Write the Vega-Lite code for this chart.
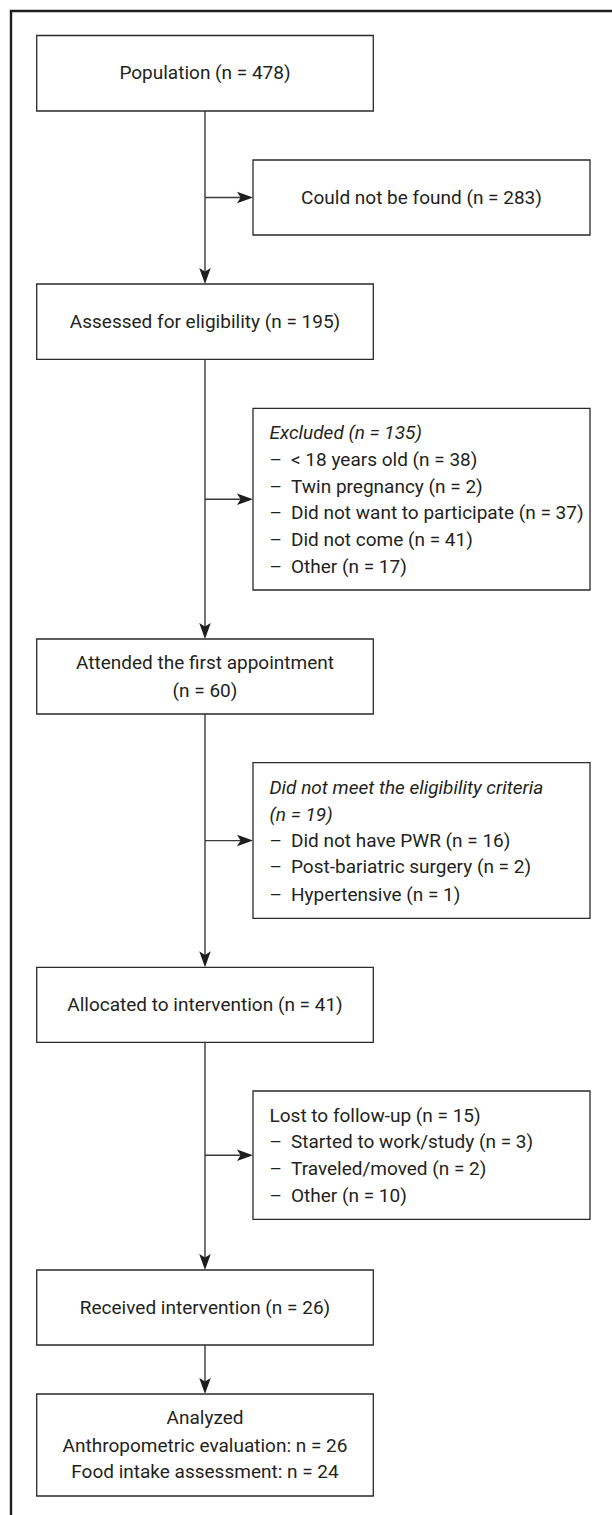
{
  "$schema": "https://vega.github.io/schema/vega-lite/v6.json",
  "width": 612,
  "height": 1515,
  "autosize": "none",
  "padding": 0,
  "background": "white",
  "config": {"view": {"stroke": null}},
  "datasets": {
    "frame": [{"x": 11, "x2": 660, "y": 11, "y2": 1560}],
    "boxes": [
      {"id": "population", "x": 36.7, "x2": 373.3, "y": 35.5, "y2": 111},
      {"id": "notfound", "x": 253, "x2": 590, "y": 160, "y2": 235},
      {"id": "assessed", "x": 36.7, "x2": 373.3, "y": 284, "y2": 359.3},
      {"id": "excluded", "x": 253, "x2": 590, "y": 408.3, "y2": 590},
      {"id": "attended", "x": 36.7, "x2": 373.3, "y": 639, "y2": 714},
      {"id": "notmeet", "x": 253, "x2": 590, "y": 762.7, "y2": 918.3},
      {"id": "allocated", "x": 36.7, "x2": 373.3, "y": 967.3, "y2": 1042.3},
      {"id": "lost", "x": 253, "x2": 590, "y": 1091, "y2": 1219.3},
      {"id": "received", "x": 36.7, "x2": 373.3, "y": 1270, "y2": 1345},
      {"id": "analyzed", "x": 36.7, "x2": 373.3, "y": 1394, "y2": 1496}
    ],
    "links": [
      {"x": 205, "y": 111, "x2": 205, "y2": 280},
      {"x": 205, "y": 359.3, "x2": 205, "y2": 635},
      {"x": 205, "y": 714, "x2": 205, "y2": 963},
      {"x": 205, "y": 1042.3, "x2": 205, "y2": 1266},
      {"x": 205, "y": 1345, "x2": 205, "y2": 1390},
      {"x": 205, "y": 197.5, "x2": 249, "y2": 197.5},
      {"x": 205, "y": 499.3, "x2": 249, "y2": 499.3},
      {"x": 205, "y": 840.6, "x2": 249, "y2": 840.6},
      {"x": 205, "y": 1155.2, "x2": 249, "y2": 1155.2}
    ],
    "arrows": [
      {"dir": "down", "x": 205, "y": 284},
      {"dir": "down", "x": 205, "y": 639},
      {"dir": "down", "x": 205, "y": 967.3},
      {"dir": "down", "x": 205, "y": 1270},
      {"dir": "down", "x": 205, "y": 1394},
      {"dir": "right", "x": 253, "y": 197.5},
      {"dir": "right", "x": 253, "y": 499.3},
      {"dir": "right", "x": 253, "y": 840.6},
      {"dir": "right", "x": 253, "y": 1155.2}
    ],
    "texts": [
      {"col": "c", "style": "n", "x": 205, "y": 73.3, "label": "Population (n = 478)"},
      {"col": "c", "style": "n", "x": 421.5, "y": 197.5, "label": "Could not be found (n = 283)"},
      {"col": "c", "style": "n", "x": 205, "y": 321.6, "label": "Assessed for eligibility (n = 195)"},
      {"col": "l", "style": "i", "x": 269.5, "y": 433, "label": "Excluded (n = 135)"},
      {"col": "l", "style": "n", "x": 269.5, "y": 460, "label": "–"},
      {"col": "l", "style": "n", "x": 291, "y": 460, "label": "< 18 years old (n = 38)"},
      {"col": "l", "style": "n", "x": 269.5, "y": 486.7, "label": "–"},
      {"col": "l", "style": "n", "x": 291, "y": 486.7, "label": "Twin pregnancy (n = 2)"},
      {"col": "l", "style": "n", "x": 269.5, "y": 513.3, "label": "–"},
      {"col": "l", "style": "n", "x": 291, "y": 513.3, "label": "Did not want to participate (n = 37)"},
      {"col": "l", "style": "n", "x": 269.5, "y": 540, "label": "–"},
      {"col": "l", "style": "n", "x": 291, "y": 540, "label": "Did not come (n = 41)"},
      {"col": "l", "style": "n", "x": 269.5, "y": 566.7, "label": "–"},
      {"col": "l", "style": "n", "x": 291, "y": 566.7, "label": "Other (n = 17)"},
      {"col": "c", "style": "n", "x": 205, "y": 663.3, "label": "Attended the first appointment"},
      {"col": "c", "style": "n", "x": 205, "y": 690.7, "label": "(n = 60)"},
      {"col": "l", "style": "i", "x": 269.5, "y": 788.3, "label": "Did not meet the eligibility criteria"},
      {"col": "l", "style": "i", "x": 269.5, "y": 815, "label": "(n = 19)"},
      {"col": "l", "style": "n", "x": 269.5, "y": 840.7, "label": "–"},
      {"col": "l", "style": "n", "x": 291, "y": 840.7, "label": "Did not have PWR (n = 16)"},
      {"col": "l", "style": "n", "x": 269.5, "y": 867.3, "label": "–"},
      {"col": "l", "style": "n", "x": 291, "y": 867.3, "label": "Post-bariatric surgery (n = 2)"},
      {"col": "l", "style": "n", "x": 269.5, "y": 895, "label": "–"},
      {"col": "l", "style": "n", "x": 291, "y": 895, "label": "Hypertensive (n = 1)"},
      {"col": "c", "style": "n", "x": 205, "y": 1005, "label": "Allocated to intervention (n = 41)"},
      {"col": "l", "style": "n", "x": 269.5, "y": 1115.7, "label": "Lost to follow-up (n = 15)"},
      {"col": "l", "style": "n", "x": 269.5, "y": 1142.3, "label": "–"},
      {"col": "l", "style": "n", "x": 291, "y": 1142.3, "label": "Started to work/study (n = 3)"},
      {"col": "l", "style": "n", "x": 269.5, "y": 1169, "label": "–"},
      {"col": "l", "style": "n", "x": 291, "y": 1169, "label": "Traveled/moved (n = 2)"},
      {"col": "l", "style": "n", "x": 269.5, "y": 1195.7, "label": "–"},
      {"col": "l", "style": "n", "x": 291, "y": 1195.7, "label": "Other (n = 10)"},
      {"col": "c", "style": "n", "x": 205, "y": 1308, "label": "Received intervention (n = 26)"},
      {"col": "c", "style": "n", "x": 205, "y": 1418.3, "label": "Analyzed"},
      {"col": "c", "style": "n", "x": 205, "y": 1445.7, "label": "Anthropometric evaluation: n = 26"},
      {"col": "c", "style": "n", "x": 205, "y": 1472.3, "label": "Food intake assessment: n = 24"}
    ]
  },
  "layer": [
    {
      "data": {"name": "frame"},
      "mark": {"type": "rect", "fill": null, "fillOpacity": 0, "stroke": "#1e1e1e", "strokeWidth": 2.4, "clip": true},
      "encoding": {
        "x": {"field": "x", "type": "quantitative", "scale": {"domain": [0, 612], "nice": false, "zero": false}, "axis": null},
        "x2": {"field": "x2"},
        "y": {"field": "y", "type": "quantitative", "scale": {"domain": [0, 1515], "nice": false, "zero": false, "reverse": true}, "axis": null},
        "y2": {"field": "y2"}
      }
    },
    {
      "data": {"name": "boxes"},
      "mark": {"type": "rect", "fill": "white", "stroke": "#2a2a2a", "strokeWidth": 1.3},
      "encoding": {
        "x": {"field": "x", "type": "quantitative"},
        "x2": {"field": "x2"},
        "y": {"field": "y", "type": "quantitative"},
        "y2": {"field": "y2"}
      }
    },
    {
      "data": {"name": "links"},
      "mark": {"type": "rule", "stroke": "#3a3a3a", "strokeWidth": 1.4},
      "encoding": {
        "x": {"field": "x", "type": "quantitative"},
        "x2": {"field": "x2"},
        "y": {"field": "y", "type": "quantitative"},
        "y2": {"field": "y2"}
      }
    },
    {
      "data": {"name": "arrows"},
      "transform": [{"filter": "datum.dir === 'right'"}],
      "mark": {"type": "point", "shape": "M0,0 L-2,-0.72 L-1.55,0 L-2,0.72 Z", "size": 256, "filled": true, "fill": "#1e1e1e", "stroke": null, "opacity": 1, "angle": 0},
      "encoding": {
        "x": {"field": "x", "type": "quantitative"},
        "y": {"field": "y", "type": "quantitative"}
      }
    },
    {
      "data": {"name": "arrows"},
      "transform": [{"filter": "datum.dir === 'down'"}],
      "mark": {"type": "point", "shape": "M0,0 L-2,-0.72 L-1.55,0 L-2,0.72 Z", "size": 256, "filled": true, "fill": "#1e1e1e", "stroke": null, "opacity": 1, "angle": 90},
      "encoding": {
        "x": {"field": "x", "type": "quantitative"},
        "y": {"field": "y", "type": "quantitative"}
      }
    },
    {
      "data": {"name": "texts"},
      "transform": [{"filter": "datum.col === 'c'"}],
      "mark": {"type": "text", "align": "center", "baseline": "middle", "font": "Roboto", "fontSize": 19, "fontWeight": 400, "color": "#231f20"},
      "encoding": {
        "x": {"field": "x", "type": "quantitative"},
        "y": {"field": "y", "type": "quantitative"},
        "text": {"field": "label"}
      }
    },
    {
      "data": {"name": "texts"},
      "transform": [{"filter": "datum.col === 'l' && datum.style === 'n'"}],
      "mark": {"type": "text", "align": "left", "baseline": "middle", "font": "Roboto", "fontSize": 19, "fontWeight": 400, "color": "#231f20"},
      "encoding": {
        "x": {"field": "x", "type": "quantitative"},
        "y": {"field": "y", "type": "quantitative"},
        "text": {"field": "label"}
      }
    },
    {
      "data": {"name": "texts"},
      "transform": [{"filter": "datum.col === 'l' && datum.style === 'i'"}],
      "mark": {"type": "text", "align": "left", "baseline": "middle", "font": "Roboto", "fontSize": 19, "fontWeight": 400, "fontStyle": "italic", "color": "#231f20"},
      "encoding": {
        "x": {"field": "x", "type": "quantitative"},
        "y": {"field": "y", "type": "quantitative"},
        "text": {"field": "label"}
      }
    }
  ]
}
